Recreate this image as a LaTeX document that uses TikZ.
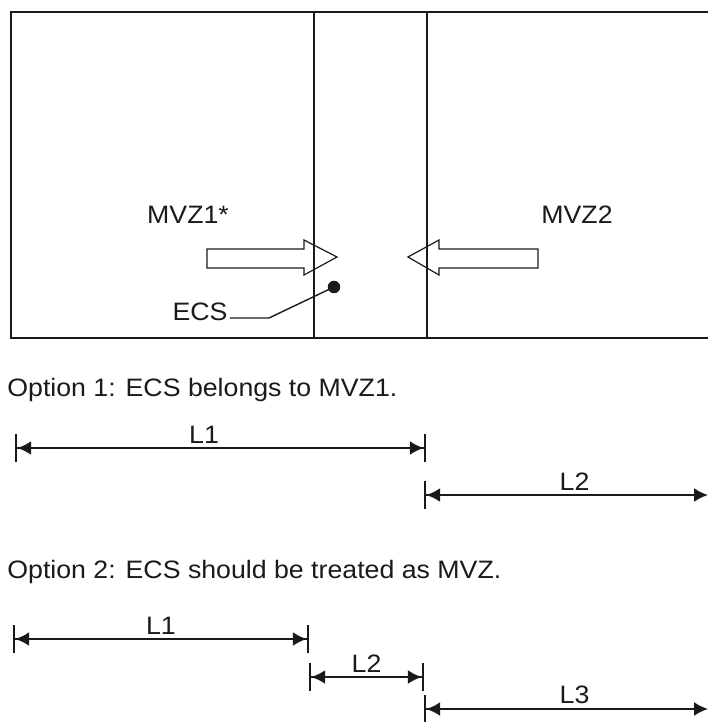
\documentclass[tikz,border=0pt]{standalone}
\usepackage{fontspec}
\setmainfont[FakeStretch=1.06]{Liberation Sans}
\usetikzlibrary{arrows.meta,positioning}
\definecolor{ink}{HTML}{1A1A1A}
\tikzset{
  zonetext/.style={font=\fontsize{12.6}{15}\selectfont, inner sep=1pt, text=ink},
  zoneline/.style={draw=ink, line width=1pt},
  blockarrow/.style={draw=ink, line width=0.6pt},
  dimline/.style={
    {Bar[width=14pt,line width=1.1pt,sep=0pt]Latex[length=7pt,width=7pt]}-%
    {Latex[length=7pt,width=7pt]Bar[width=14pt,line width=1.1pt,sep=0pt]},
    draw=ink, line width=1pt
  },
  dimopen/.style={
    {Bar[width=14pt,line width=1.1pt,sep=0pt]Latex[length=7pt,width=7pt]}-%
    {Latex[length=7pt,width=7pt]},
    draw=ink, line width=1pt
  },
  dimlabel/.style={zonetext, above=1pt},
}

\begin{document}
\begin{tikzpicture}[x=0.5pt, y=-0.5pt]
  \useasboundingbox (0,0) rectangle (707,722);
  % zones
  \draw[zoneline] (11,12) rectangle (740,338);
  \draw[zoneline] (314,12) -- (314,338);
  \draw[zoneline] (427,12) -- (427,338);
  \node[zonetext] (mvz1) at (188,215) {MVZ1*};
  \node[zonetext] (mvz2) at (577,215) {MVZ2};
  \draw[blockarrow] (207,249) -- (304,249) -- (304,240) -- (337,257)
    -- (304,275) -- (304,268) -- (207,268) -- cycle;
  \draw[blockarrow] (538,249) -- (439,249) -- (439,240) -- (408,257)
    -- (439,275) -- (439,268) -- (538,268) -- cycle;
  % ECS marker
  \node[zonetext] (ecs) at (200,312) {ECS};
  \node[circle, fill=ink, inner sep=2.2pt] (ecsdot) at (334,287) {};
  \coordinate (ecsbend) at (269,318);
  \draw[ink, line width=0.7pt] ([yshift=-3pt]ecs.east) -- (ecsbend) -- (ecsdot.center);

  % option 1
  \node[zonetext, anchor=west] (opt1) at (5,390) {Option 1: ECS belongs to MVZ1.};
  \coordinate (o1a) at (15,448);
  \coordinate (o1b) at (426,448);
  \coordinate (o1c) at (424,495);
  \coordinate (o1d) at (708,495);
  \draw[dimline] (o1a) -- (o1b) node[dimlabel, pos=0.46] (o1l1) {L1};
  \draw[dimopen] (o1c) -- (o1d) node[dimlabel, pos=0.53] (o1l2) {L2};

  % option 2
  \node[zonetext, anchor=west] (opt2) at (5,572) {Option 2: ECS should be treated as MVZ.};
  \coordinate (o2a) at (13,639);
  \coordinate (o2b) at (309,639);
  \coordinate (o2c) at (309,677);
  \coordinate (o2d) at (424,677);
  \coordinate (o2e) at (424,709);
  \coordinate (o2f) at (708,709);
  \draw[dimline] (o2a) -- (o2b) node[dimlabel, midway] (o2l1) {L1};
  \draw[dimline] (o2c) -- (o2d) node[dimlabel, pos=0.5] (o2l2) {L2};
  \draw[dimopen] (o2e) -- (o2f) node[dimlabel, pos=0.53] (o2l3) {L3};
\end{tikzpicture}
\end{document}
